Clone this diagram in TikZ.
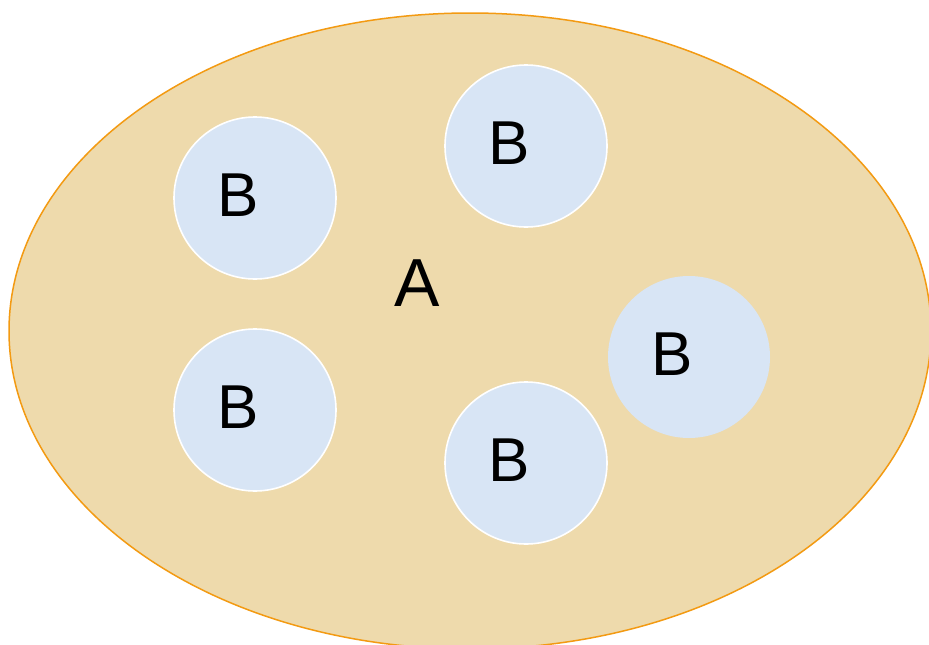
\documentclass[tikz,border=0pt]{standalone}
\usepackage{fontspec}
\setmainfont{Liberation Sans}
\definecolor{sandfill}{HTML}{EEDAAC}
\definecolor{sandedge}{HTML}{F39A12}
\definecolor{bluefill}{HTML}{D8E5F5}
\tikzset{
  setA/.style={draw=sandedge, line width=1.5pt, fill=sandfill},
  elemB/.style={circle, minimum size=162pt, inner sep=0pt, fill=bluefill,
                label={[textB]center:B}},
  textB/.style={xshift=-17pt, yshift=3pt, inner sep=0pt,
                font=\fontsize{62}{62}\selectfont},
  rimB/.style={draw=white, line width=1.6pt},
  labelA/.style={font=\fontsize{68}{68}\selectfont}
}
\begin{document}
\begin{tikzpicture}[x=1pt,y=-1pt]
  \useasboundingbox (0,0) rectangle (929,645);
  \begin{scope}
    \clip (0,0) rectangle (929,645);
    \draw[setA] (470,331) ellipse [x radius=461, y radius=318];
  \end{scope}
  \node[labelA] (a) at (417,283) {A};
  \node[elemB, rimB] (b1) at (255,198) {};
  \node[elemB, rimB] (b2) at (526,146) {};
  \node[elemB] (b3) at (689,357) {};
  \node[elemB, rimB] (b4) at (255,410) {};
  \node[elemB, rimB] (b5) at (526,463) {};
\end{tikzpicture}
\end{document}
